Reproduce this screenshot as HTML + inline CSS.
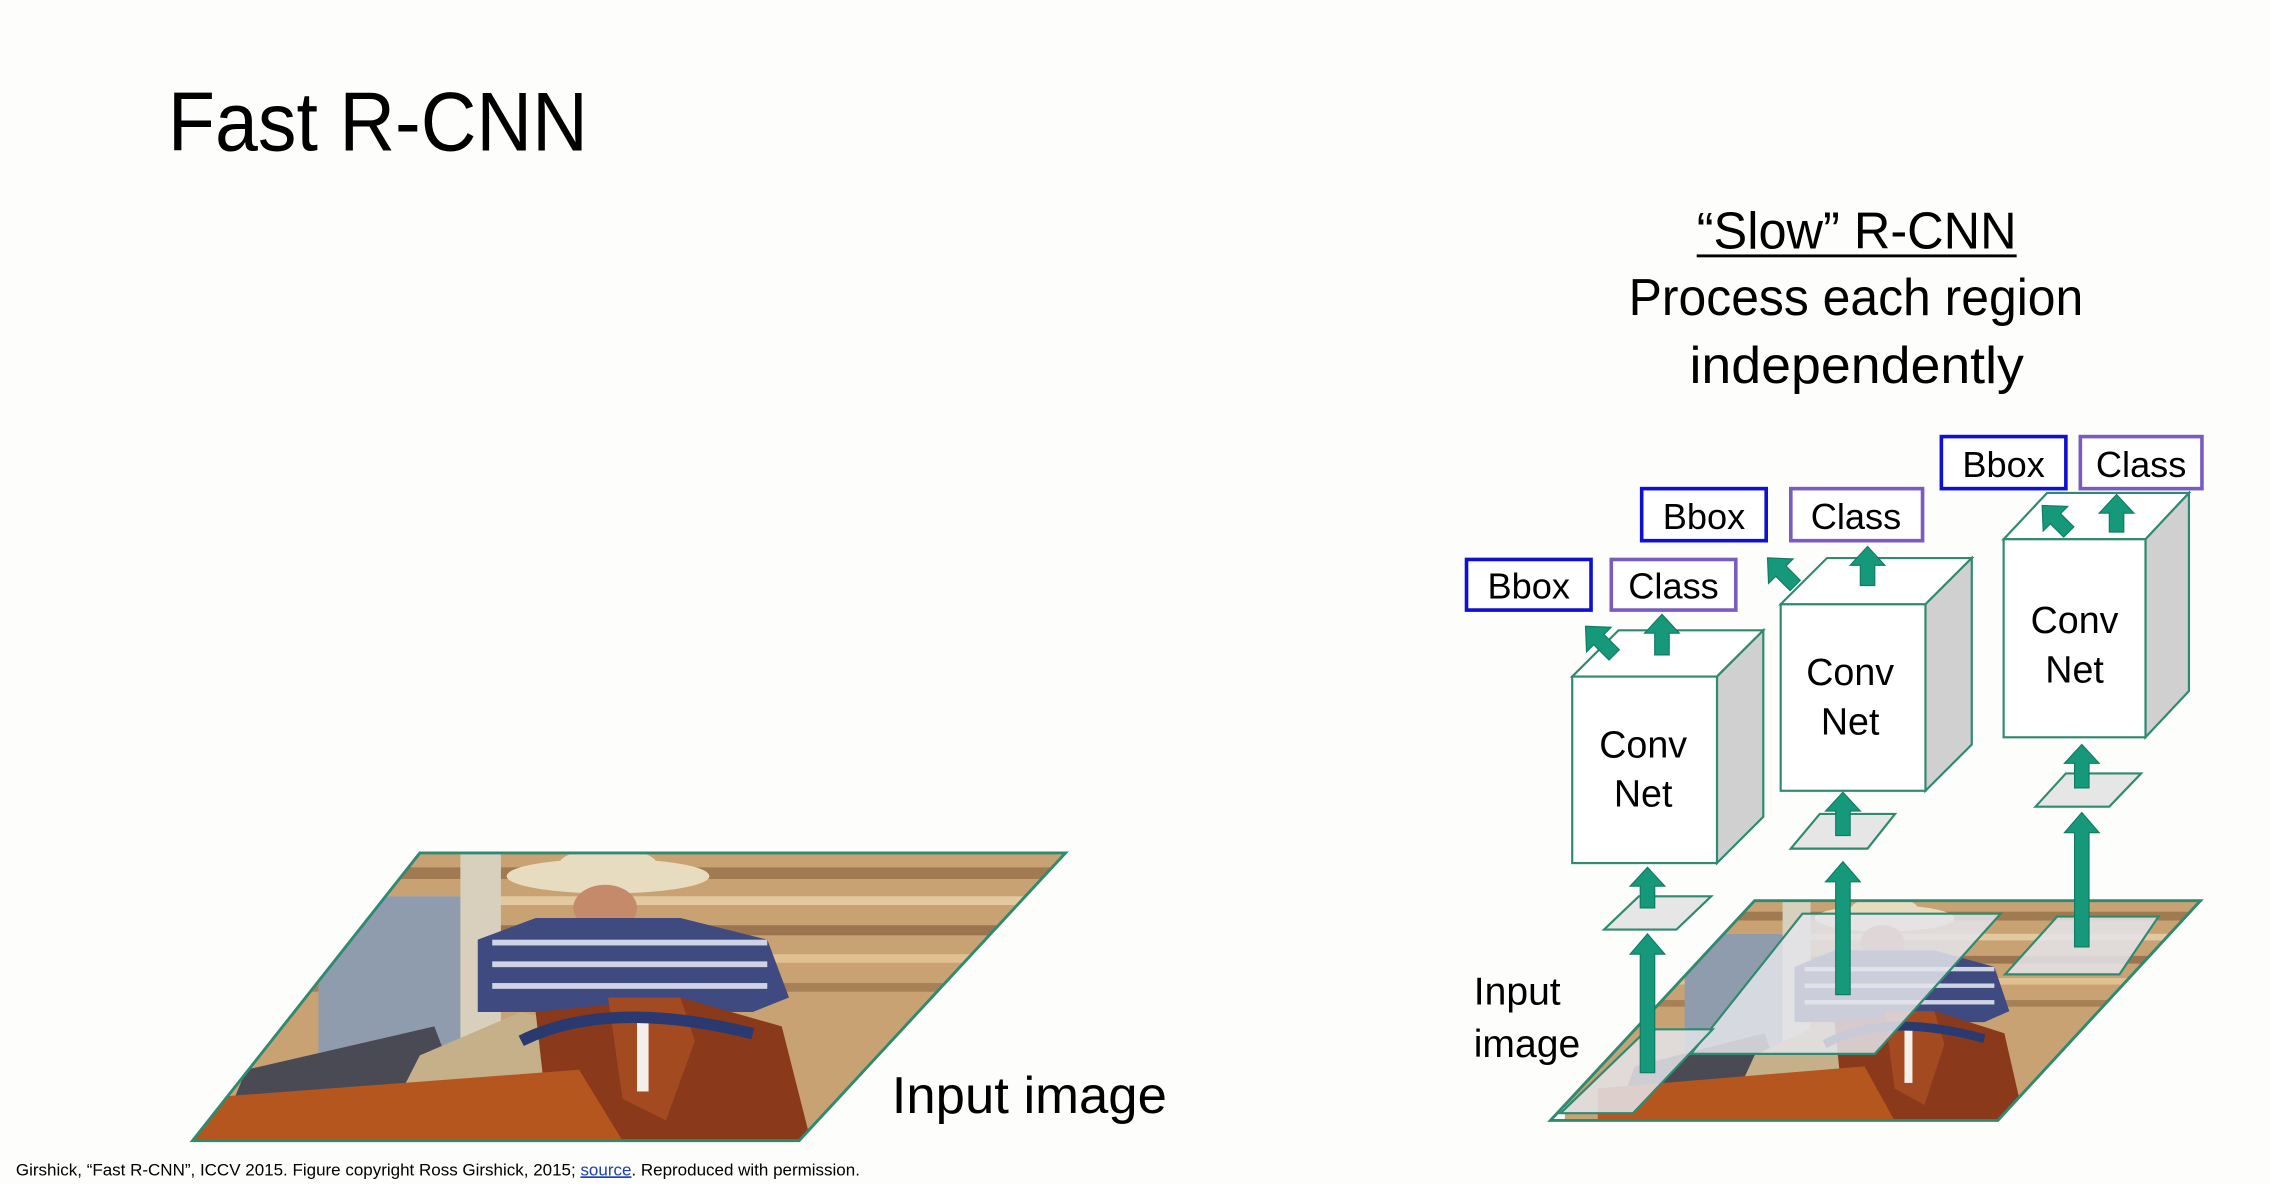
<!DOCTYPE html>
<html><head><meta charset="utf-8"><style>
html,body{margin:0;padding:0;background:#fff;}
svg{display:block;}
text{font-family:"Liberation Sans",sans-serif;fill:#000;}
</style></head><body>
<svg width="2270" height="1184" viewBox="0 0 1568 819" preserveAspectRatio="none" xmlns="http://www.w3.org/2000/svg">
<defs>
<clipPath id="c1"><polygon points="133,789 290,590 736,590 552,789"/></clipPath>
<clipPath id="c2"><polygon points="1071,775 1212,623 1520,623 1380,775"/></clipPath>
<g id="photo">
  <rect x="100" y="580" width="700" height="220" fill="#c9a274"/>
  <rect x="100" y="600" width="700" height="8" fill="#a07a50"/>
  <rect x="100" y="620" width="700" height="6" fill="#e2c9a0"/>
  <rect x="100" y="640" width="700" height="7" fill="#9b7450"/>
  <rect x="100" y="660" width="700" height="6" fill="#e0c090"/>
  <rect x="100" y="680" width="700" height="6" fill="#a88058"/>
  <rect x="220" y="620" width="100" height="130" fill="#8e9cad"/>
  <rect x="318" y="590" width="28" height="140" fill="#d8d0bc"/>
  <polygon points="170,740 300,710 330,789 150,789" fill="#4a4a54"/>
  <ellipse cx="420" cy="606" rx="70" ry="12" fill="#e8dcc0"/>
  <ellipse cx="420" cy="600" rx="35" ry="14" fill="#e8dcc0"/>
  <ellipse cx="418" cy="628" rx="22" ry="16" fill="#c48a6a"/>
  <polygon points="330,650 370,635 470,635 530,650 545,690 520,700 330,700" fill="#3e4a80"/>
  <rect x="340" y="650" width="190" height="4" fill="#cfd4e4"/>
  <rect x="340" y="665" width="190" height="4" fill="#cfd4e4"/>
  <rect x="340" y="680" width="190" height="4" fill="#cfd4e4"/>
  <polygon points="260,789 290,730 360,700 400,710 380,789" fill="#c5b08a"/>
  <polygon points="370,700 470,690 540,710 560,789 380,789" fill="#8a3a1a"/>
  <polygon points="420,690 470,690 480,720 460,775 430,760" fill="#a34a20"/>
  <rect x="440" y="705" width="8" height="50" fill="#f4efe8"/>
  <polygon points="133,760 400,740 430,789 133,789" fill="#b5561e"/>
  <path d="M360,720 Q420,690 520,715" stroke="#2a3a70" stroke-width="8" fill="none"/>
</g>
</defs>
<rect width="1568" height="819" fill="#fdfdfb"/>

<text x="116" y="104" font-size="58" textLength="290" lengthAdjust="spacingAndGlyphs">Fast R-CNN</text>

<text x="1172" y="172" font-size="36" textLength="221" lengthAdjust="spacingAndGlyphs">“Slow” R-CNN</text>
<rect x="1172" y="176" width="221" height="2" fill="#000"/>
<text x="1125" y="218" font-size="36" textLength="314" lengthAdjust="spacingAndGlyphs">Process each region</text>
<text x="1167" y="265" font-size="36" textLength="231" lengthAdjust="spacingAndGlyphs">independently</text>

<!-- left photo -->
<g clip-path="url(#c1)"><use href="#photo"/></g>
<polygon points="133,789 290,590 736,590 552,789" fill="none" stroke="#2f8a70" stroke-width="2"/>
<text x="616" y="770" font-size="36" textLength="190" lengthAdjust="spacingAndGlyphs">Input image</text>

<!-- right photo -->
<g clip-path="url(#c2)"><g transform="translate(1212,623) scale(0.69,0.764) translate(-290,-590)"><use href="#photo"/></g></g>
<polygon points="1071,775 1212,623 1520,623 1380,775" fill="none" stroke="#2f8a70" stroke-width="2"/>
<polygon points="1245,632 1382,632 1295,729 1168,729" fill="#e4e4ea" fill-opacity="0.85" stroke="#2f8a70" stroke-width="1.5"/>
<polygon points="1138,712 1183,712 1128,770 1078,770" fill="#e4e4ea" fill-opacity="0.85" stroke="#2f8a70" stroke-width="1.5"/>
<polygon points="1421,634 1491,634 1464,674 1385,674" fill="#e4e4ea" fill-opacity="0.85" stroke="#2f8a70" stroke-width="1.5"/>
<text x="1018" y="695" font-size="27">Input</text>
<text x="1018" y="731" font-size="27">image</text>

<!-- small planes -->
<g fill="#e6e6e6" stroke="#2f8a70" stroke-width="1.5">
<polygon points="1108,643 1132,620 1182,620 1158,643"/>
<polygon points="1237,587 1257,563 1309,563 1290,587"/>
<polygon points="1406,558 1427,535 1479,535 1457,558"/>
</g>

<!-- cubes -->
<g stroke="#2f8a70" stroke-width="1.5">
<polygon points="1086,468 1118,436 1218,436 1186,468" fill="#fff"/>
<polygon points="1186,468 1218,436 1218,565 1186,597" fill="#d0d0d0"/>
<rect x="1086" y="468" width="100" height="129" fill="#fff"/>
<polygon points="1230,418 1262,386 1362,386 1330,418" fill="#fff"/>
<polygon points="1330,418 1362,386 1362,515 1330,547" fill="#d0d0d0"/>
<rect x="1230" y="418" width="100" height="129" fill="#fff"/>
<polygon points="1384,373 1414,341 1512,341 1482,373" fill="#fff"/>
<polygon points="1482,373 1512,341 1512,478 1482,510" fill="#d0d0d0"/>
<rect x="1384" y="373" width="98" height="137" fill="#fff"/>
</g>
<g font-size="26" text-anchor="middle">
<text x="1135" y="524">Conv</text><text x="1135" y="558">Net</text>
<text x="1278" y="474">Conv</text><text x="1278" y="508">Net</text>
<text x="1433" y="438">Conv</text><text x="1433" y="472">Net</text>
</g>

<!-- label boxes -->
<g fill="#fff" stroke-width="2.5">
<rect x="1013" y="387" width="86" height="35" stroke="#1010d0"/>
<rect x="1113" y="387" width="86" height="35" stroke="#7a5cc0"/>
<rect x="1134" y="338" width="86" height="36" stroke="#1010d0"/>
<rect x="1237" y="338" width="91" height="36" stroke="#7a5cc0"/>
<rect x="1341" y="302" width="86" height="36" stroke="#1010d0"/>
<rect x="1437" y="302" width="84" height="36" stroke="#7a5cc0"/>
</g>
<g font-size="25" text-anchor="middle">
<text x="1056" y="414">Bbox</text><text x="1156" y="414">Class</text>
<text x="1177" y="366">Bbox</text><text x="1282" y="366">Class</text>
<text x="1384" y="330">Bbox</text><text x="1479" y="330">Class</text>
</g>

<!-- arrows -->
<g fill="#16997a" stroke="#127a62" stroke-width="0.8">
<polygon points="1133,742 1143,742 1143,660 1150,660 1138,646 1126,660 1133,660"/>
<polygon points="1268,688 1278,688 1278,610 1285,610 1273,596 1261,610 1268,610"/>
<polygon points="1433,655 1443,655 1443,576 1450,576 1438,562 1426,576 1433,576"/>
<polygon points="1133,628 1143,628 1143,613 1150,613 1138,600 1126,613 1133,613"/>
<polygon points="1268,578 1278,578 1278,561 1285,561 1273,548 1261,561 1268,561"/>
<polygon points="1433,545 1443,545 1443,528 1450,528 1438,515 1426,528 1433,528"/>
<polygon points="1143,453 1153,453 1153,438 1160,438 1148,425 1136,438 1143,438"/>
<polygon points="1285,405 1295,405 1295,391 1302,391 1290,378 1278,391 1285,391"/>
<polygon points="1457,368 1467,368 1467,355 1474,355 1462,342 1450,355 1457,355"/>
<polygon points="1110,453 1120,453 1120,438 1127,438 1115,425 1103,438 1110,438" transform="rotate(-45 1115 453)"/>
<polygon points="1235,405 1245,405 1245,391 1252,391 1240,378 1228,391 1235,391" transform="rotate(-45 1240 405)"/>
<polygon points="1424,368 1434,368 1434,355 1441,355 1429,342 1417,355 1424,355" transform="rotate(-45 1429 368)"/>
</g>

<text x="11" y="813" font-size="11.5" textLength="583" lengthAdjust="spacingAndGlyphs">Girshick, “Fast R-CNN”, ICCV 2015. Figure copyright Ross Girshick, 2015; <tspan fill="#1a3fb0" text-decoration="underline">source</tspan>. Reproduced with permission.</text>
</svg>
</body></html>
